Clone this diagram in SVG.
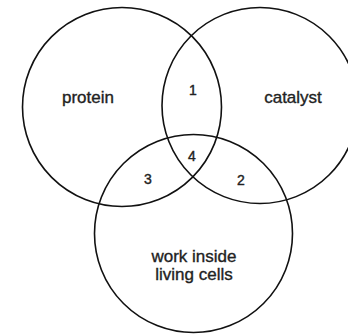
<svg xmlns="http://www.w3.org/2000/svg" width="348" height="334" viewBox="0 0 348 334">
<style>
.c{fill:none;stroke:#111;stroke-width:1.6}
.t{font-family:"Liberation Sans",Arial,sans-serif;font-size:17px;fill:#222;stroke:#222;stroke-width:0.35;text-anchor:middle}
.n{font-family:"Liberation Sans",Arial,sans-serif;font-size:14px;fill:#222;stroke:#222;stroke-width:0.4;text-anchor:middle}
</style>
<rect width="348" height="334" fill="#fff"/>
<g id="protein"><circle class="c" cx="122" cy="107" r="99.5"/><text class="t" x="88" y="103">protein</text></g>
<g id="catalyst"><circle class="c" cx="260" cy="105.5" r="98"/><text class="t" x="293" y="103">catalyst</text></g>
<g id="cells"><circle class="c" cx="193.5" cy="233.5" r="99"/><text class="t" x="194" y="262">work inside</text><text class="t" x="194" y="280">living cells</text></g>
<g id="regions"><text class="n" x="193" y="94.5">1</text><text class="n" x="241" y="184.5">2</text><text class="n" x="148" y="183.5">3</text><text class="n" x="192" y="161">4</text></g>
</svg>
